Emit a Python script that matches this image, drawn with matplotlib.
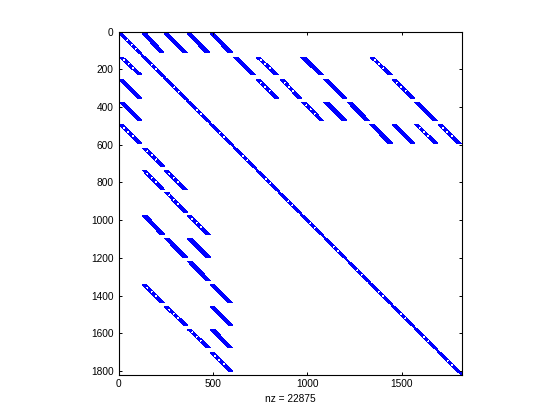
import matplotlib
matplotlib.use('Agg')
import matplotlib.pyplot as plt

# size of the matrix and number of non zeros
matrixSize = 1818
nz = 22875

# off diagonal bands
bandColStart = [127, 243, 365, 485,
                4, 609, 729, 967, 1333,
                4, 729, 856, 1089, 1450,
                4, 971, 1089, 1212, 1570,
                4, 1333, 1450, 1570, 1694,
                128, 128, 244, 244, 128, 365, 244, 365, 365,
                128, 486, 244, 486, 365, 486, 486]
bandColEnd = [241, 365, 482, 605,
              124, 727, 847, 1085, 1450,
              124, 850, 971, 1209, 1570,
              124, 1085, 1209, 1329, 1689,
              121, 1450, 1570, 1689, 1816,
              244, 244, 365, 365, 244, 486, 365, 486, 486,
              244, 605, 365, 605, 486, 605, 605]
bandRowStart = [12, 12, 12, 12,
                136, 136, 136, 136, 136,
                255, 255, 255, 255, 255,
                374, 374, 374, 374, 374,
                494, 494, 494, 494, 494,
                618, 737, 737, 852, 976, 976, 1097, 1097, 1218,
                1342, 1342, 1459, 1459, 1579, 1579, 1703]
bandRowEnd = [111, 111, 111, 111,
              229, 229, 229, 229, 229,
              353, 353, 353, 353, 353,
              471, 471, 471, 471, 471,
              591, 591, 591, 591, 593,
              714, 838, 838, 957, 1076, 1076, 1196, 1196, 1319,
              1438, 1438, 1556, 1556, 1677, 1677, 1800]
# 1 where the band looks thinner with white specks in it
bandHollow = [0, 0, 0, 0,
              1, 0, 1, 0, 1,
              0, 1, 1, 0, 1,
              0, 1, 0, 0, 0,
              1, 0, 0, 1, 1,
              1, 1, 1, 1, 0, 1, 0, 0, 0,
              1, 0, 1, 0, 1, 0, 1]

# wide parts of the main diagonal
mainStart = [0, 132, 250, 372, 494, 618, 741, 856, 976, 1099, 1226, 1336, 1456, 1576, 1700]
mainEnd = [115, 240, 362, 478, 598, 722, 842, 962, 1077, 1200, 1324, 1442, 1558, 1682, 1809]

xTicks = [0, 500, 1000, 1500]
yTicks = [0, 200, 400, 600, 800, 1000, 1200, 1400, 1600, 1800]

plt.rcParams['font.family'] = ['Liberation Sans', 'DejaVu Sans']

fig = plt.figure(figsize=(5.6, 4.2), dpi=100)
ax = fig.add_axes([118.5 / 560, 1 - 374.5 / 420, 343 / 560, 343 / 420])

blue = '#0000ff'


def drawBand(c0, c1, r0, r1, width):
    ax.fill([c0, c0 + width, c1, c1 - width],
            [r0, r0, r1, r1], color=blue, lw=0, antialiased=False)


def drawSpecks(c0, c1, r0, r1, width, a, b):
    # specks sit in the middle part of the band
    ax.plot([c0 + width / 2 + (c1 - c0 - width) * a, c0 + width / 2 + (c1 - c0 - width) * b],
            [r0 + (r1 - r0) * a, r0 + (r1 - r0) * b],
            color='white', lw=0.5, dashes=(0.8, 8), antialiased=False)


for i in range(len(bandColStart)):
    if bandHollow[i]:
        drawBand(bandColStart[i], bandColEnd[i], bandRowStart[i], bandRowEnd[i], 20)
        drawSpecks(bandColStart[i], bandColEnd[i], bandRowStart[i], bandRowEnd[i], 20, 0.15, 0.8)
    else:
        drawBand(bandColStart[i], bandColEnd[i], bandRowStart[i], bandRowEnd[i], 23)

# thin line joins the wide parts of the diagonal
ax.plot([0, matrixSize], [0, matrixSize], color=blue, lw=0.8, antialiased=False)
mainWidth = 19
for i in range(len(mainStart)):
    c0 = mainStart[i] - mainWidth / 2
    c1 = mainEnd[i] + mainWidth / 2
    drawBand(c0, c1, mainStart[i], mainEnd[i], mainWidth)
    drawSpecks(c0, c1, mainStart[i], mainEnd[i], mainWidth, 0.4, 0.8)

ax.set_xlim(0, matrixSize)
ax.set_ylim(matrixSize, 0)
ax.set_xticks(xTicks)
ax.set_yticks(yTicks)
ax.tick_params(direction='in', length=2.5, width=0.7, top=True, right=True, pad=3.5, labelsize=7.3)
ax.tick_params(axis='x', pad=3)
for spine in ax.spines.values():
    spine.set_linewidth(0.8)
ax.set_xlabel(f'nz = {nz}', fontsize=7.3, labelpad=3.5)

fig.savefig('out.png', dpi=100)
